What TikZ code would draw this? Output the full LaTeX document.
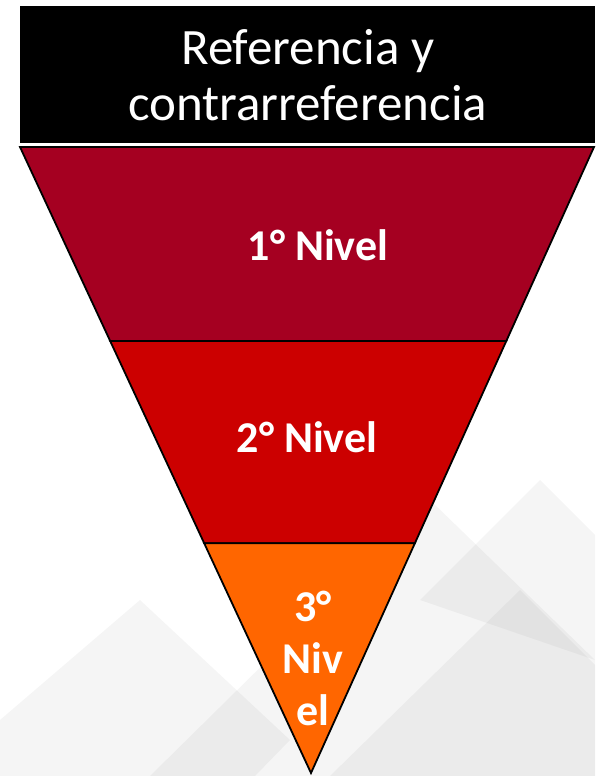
\documentclass[tikz,border=0pt]{standalone}
\usepackage{fontspec}
\setmainfont{Carlito}
\usetikzlibrary{calc}

\definecolor{nivelone}{HTML}{A50021}
\definecolor{niveltwo}{HTML}{CC0000}
\definecolor{nivelthree}{HTML}{FF6600}

\begin{document}
\begin{tikzpicture}
  [x=1pt,y=-1pt,
   band/.style={draw=black,line width=1.8pt,line join=miter},
   nivel/.style={text=white,align=center,font=\fontsize{44}{52}\selectfont\bfseries},
   marca/.style={fill=black,opacity=0.04}]

  \newcommand{\cutone}{0.31}
  \newcommand{\cuttwo}{0.633}

  \useasboundingbox (0,0) rectangle (595,776);

  % faint background pattern
  \begin{scope}
    \clip (0,0) rectangle (595,776);
    \fill[marca] (150,776) -- (430,500) -- (595,660) -- (595,776) -- cycle;
    \fill[marca] (330,776) -- (520,590) -- (595,665) -- (595,776) -- cycle;
    \fill[marca] (0,720) -- (140,600) -- (290,740) -- (255,776) -- (0,776) -- cycle;
    \fill[marca] (420,600) -- (540,480) -- (595,535) -- (595,660) -- cycle;
  \end{scope}

  % title
  \node[fill=black,text=white,inner sep=0pt,minimum width=575pt,minimum height=137pt,
        anchor=north west,align=center,font=\fontsize{51}{56}\selectfont] (titulo) at (20,6)
        {Referencia y\\contrarreferencia};

  % funnel
  \coordinate (tl) at (20,147);
  \coordinate (tr) at (594,147);
  \coordinate (ap) at (311,773);
  \coordinate (l1) at ($(tl)!\cutone!(ap)$);
  \coordinate (r1) at ($(tr)!\cutone!(ap)$);
  \coordinate (l2) at ($(tl)!\cuttwo!(ap)$);
  \coordinate (r2) at ($(tr)!\cuttwo!(ap)$);

  \filldraw[band,fill=nivelone] (tl) -- (tr) -- (r1) -- (l1) -- cycle;
  \filldraw[band,fill=niveltwo] (l1) -- (r1) -- (r2) -- (l2) -- cycle;
  \filldraw[band,fill=nivelthree] (l2) -- (r2) -- (ap) -- cycle;

  \node[nivel] (uno) at (318,245) {1° Nivel};
  \node[nivel] (dos) at (307,437) {2° Nivel};
  \node[nivel] (tres) at (313,658) {3°\\Niv\\el};

\end{tikzpicture}
\end{document}
